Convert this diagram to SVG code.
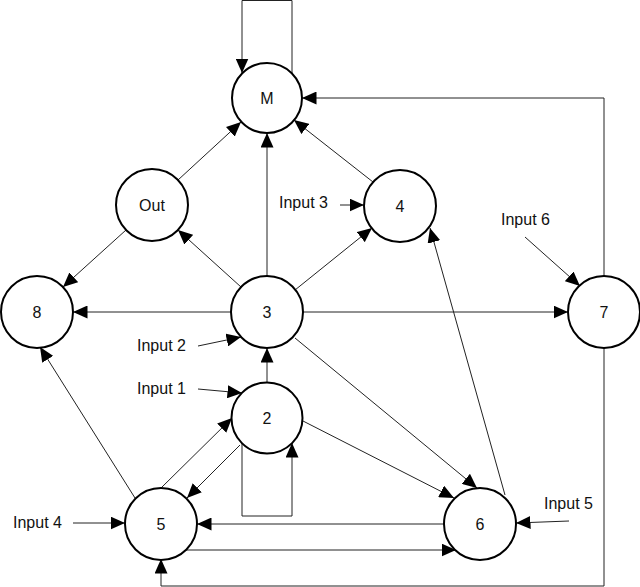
<svg xmlns="http://www.w3.org/2000/svg" width="640" height="587" viewBox="0 0 640 587">
<style>
.node circle{fill:#fff;stroke:#000;stroke-width:2}
.node text,.lbl{font-family:"Liberation Sans",Arial,sans-serif;font-size:16px;fill:#111}
.node text{text-anchor:middle}
#edges path,#edges line{fill:none;stroke:#222;stroke-width:1;marker-end:url(#ah)}
</style>
<defs>
<marker id="ah" markerUnits="userSpaceOnUse" markerWidth="15" markerHeight="13" refX="14.5" refY="6.5" orient="auto">
<path d="M0,0 L14.5,6.5 L0,13 z" fill="#000"/>
</marker>
</defs>
<rect width="640" height="587" fill="#fff"/>
<g id="edges">
<path d="M292 74 V0.5 H242 V73"/>
<path d="M242 443 V516 H292 V443"/>
<path d="M604 276 V98 H302"/>
<path d="M604 348 V586 H161 V559"/>
<line x1="444" y1="524" x2="197" y2="524"/>
<line x1="185" y1="550" x2="456" y2="550"/>
<line x1="198" y1="389" x2="242" y2="393"/>
<line x1="198" y1="346" x2="241" y2="337"/>
<line x1="340" y1="205" x2="364" y2="205"/>
<line x1="73" y1="523" x2="125" y2="523"/>
<line x1="569" y1="521" x2="516" y2="523"/>
<line x1="525" y1="237" x2="580" y2="286"/>
<line x1="178" y1="180" x2="241" y2="122"/>
<line x1="373" y1="182" x2="294" y2="120"/>
<line x1="267" y1="276" x2="267" y2="133"/>
<line x1="241" y1="287" x2="178" y2="230"/>
<line x1="126" y1="230" x2="63" y2="287"/>
<line x1="231" y1="312" x2="73" y2="312"/>
<line x1="295" y1="290" x2="372" y2="228"/>
<line x1="303" y1="312" x2="568" y2="312"/>
<line x1="295" y1="338" x2="477" y2="488"/>
<line x1="303" y1="421" x2="454" y2="498"/>
<line x1="267" y1="383" x2="267" y2="348"/>
<line x1="505" y1="495" x2="430" y2="228"/>
<line x1="135" y1="498" x2="40" y2="347"/>
<line x1="240" y1="445" x2="187" y2="498"/>
<line x1="161" y1="488" x2="232" y2="418"/>
</g>
<g id="node-M" class="node"><circle cx="267" cy="98" r="35"/><text x="267" y="104">M</text></g>
<g id="node-Out" class="node"><circle cx="152" cy="205" r="36"/><text x="152" y="211">Out</text></g>
<g id="node-4" class="node"><circle cx="400" cy="206" r="36"/><text x="400" y="212">4</text></g>
<g id="node-8" class="node"><circle cx="37" cy="312" r="36"/><text x="37" y="318">8</text></g>
<g id="node-3" class="node"><circle cx="267" cy="312" r="36"/><text x="267" y="318">3</text></g>
<g id="node-7" class="node"><circle cx="604" cy="312" r="36"/><text x="604" y="318">7</text></g>
<g id="node-2" class="node"><circle cx="267" cy="418" r="35.5"/><text x="267" y="424">2</text></g>
<g id="node-5" class="node"><circle cx="161" cy="524" r="36"/><text x="161" y="530">5</text></g>
<g id="node-6" class="node"><circle cx="480" cy="524" r="36"/><text x="480" y="530">6</text></g>
<g id="labels">
<text class="lbl" x="137" y="394">Input 1</text>
<text class="lbl" x="137" y="351">Input 2</text>
<text class="lbl" x="279" y="208">Input 3</text>
<text class="lbl" x="13" y="528">Input 4</text>
<text class="lbl" x="544" y="509">Input 5</text>
<text class="lbl" x="501" y="225">Input 6</text>
</g>
</svg>
